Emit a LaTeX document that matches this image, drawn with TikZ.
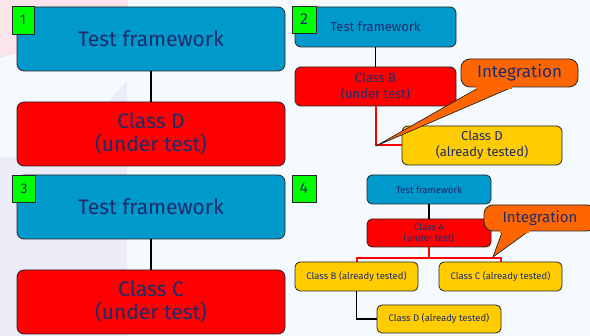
\documentclass[tikz,border=0pt]{standalone}
\usepackage{fontspec}
\setmainfont{Fira Sans}
\definecolor{bgpaper}{RGB}{245,250,254}
\definecolor{bgpink}{RGB}{252,229,234}
\definecolor{bglav}{RGB}{236,236,248}
\definecolor{fwblue}{RGB}{0,153,204}
\definecolor{cutred}{RGB}{255,0,0}
\definecolor{donegold}{RGB}{255,204,0}
\definecolor{tagreen}{RGB}{0,255,0}
\definecolor{calloutorange}{RGB}{255,102,0}
\definecolor{inkblue}{RGB}{30,44,108}
\newcommand{\fs}[2]{\fontsize{#1}{#2}\selectfont}
\tikzset{
  unit/.style={draw=black!85, line width=0.8pt, text=inkblue, align=center,
    inner sep=0pt, rounded corners=#1},
  unit/.default=7pt,
  framework/.style={unit, fill=fwblue},
  undertest/.style={unit, fill=cutred},
  tested/.style={unit, fill=donegold},
  tag/.style={draw=black!85, line width=0.8pt, fill=tagreen, text=inkblue,
    inner sep=0pt, minimum width=23pt, minimum height=27pt},
  bubble/.style={draw=black!85, line width=0.8pt, fill=calloutorange, text=inkblue,
    rounded corners=9pt, inner sep=0pt},
  link/.style={draw=black, line width=1.3pt},
  redlink/.style={color=cutred, draw=cutred, line width=2pt},
  pointer/.style={draw=black!85, line width=0.7pt, fill=calloutorange, line join=miter}
}
\begin{document}
\begin{tikzpicture}[x=1pt,y=-1pt]
\useasboundingbox (0,0) rectangle (590,336);
\clip (0,0) rectangle (590,336);
% slide background
\fill[bgpaper] (0,0) rectangle (590,336);
\fill[bgpink] (0,0) -- (128,0) -- (128,22) -- (0,58) -- cycle;
\fill[bglav] (127,80) -- (127,336) -- (0,336) -- (0,157) -- (62,157) -- cycle;

% ---- step 1 ----
\node[framework, minimum width=268pt, minimum height=64pt, font=\fs{21}{23}]
  (tf1) at (151,39) {Test framework};
\node[undertest, minimum width=268pt, minimum height=64pt, font=\fs{21}{23}]
  (cd1) at (151,134) {Class D\\(under test)};
\draw[link] (tf1.south) -- (cd1.north);
\node[tag, minimum width=22pt, minimum height=28pt, font=\fs{14}{16}] (t1) at (23,20) {1};

% ---- step 3 ----
\node[framework, minimum width=268pt, minimum height=64pt, font=\fs{21}{23}]
  (tf3) at (151,207) {Test framework};
\node[undertest, minimum width=268pt, minimum height=64pt, font=\fs{21}{23}]
  (cc3) at (151,302) {Class C\\(under test)};
\draw[link] (tf3.south) -- (cc3.north);
\node[tag, font=\fs{14}{16}] (t3) at (24,188.5) {3};

% ---- step 2 ----
\node[framework, unit=6pt, minimum width=161pt, minimum height=40pt, font=\fs{13}{16}]
  (tf2) at (375.5,27) {Test framework};
\node[undertest, unit=6pt, minimum width=161pt, minimum height=39pt, font=\fs{13}{16}]
  (cb2) at (375.5,86.5) {Class B\\(under test)};
\node[tested, unit=6pt, minimum width=160pt, minimum height=39pt, font=\fs{13}{16}]
  (cd2) at (482,145.5) {Class D\\(already tested)};
\draw[link] (tf2.south) -- (cb2.north);
\draw[redlink] (cb2.south) |- (cd2.west);
\coordinate (tip2) at (376,146);
\node[tag, minimum width=24pt, font=\fs{16}{18}] (t2) at (304,19.5) {2};
\node[bubble, minimum width=117pt, minimum height=28pt, font=\fs{17}{19}]
  (int2) at (519.5,73) {Integration};
\draw[pointer] ([xshift=-42pt,yshift=-1pt]int2.south) -- (tip2) -- ([xshift=-10pt,yshift=-1pt]int2.south);
\fill[calloutorange] ([xshift=-44pt,yshift=-1.5pt]int2.south) rectangle ([xshift=-8pt,yshift=2pt]int2.south);

% ---- step 4 ----
\node[framework, unit=5pt, minimum width=124pt, minimum height=29pt, font=\fs{9.5}{11}]
  (tf4) at (429,189.5) {Test framework};
\node[undertest, unit=5pt, minimum width=124pt, minimum height=28pt, font=\fs{9.5}{11}]
  (ca4) at (429,233) {Class A\\(under test)};
\node[tested, unit=5pt, minimum width=123pt, minimum height=29pt, font=\fs{9.5}{11}]
  (cb4) at (356.5,276.5) {Class B (already tested)};
\node[tested, unit=5pt, minimum width=123pt, minimum height=29pt, font=\fs{9.5}{11}]
  (cc4) at (500.5,276.5) {Class C (already tested)};
\node[tested, unit=5pt, minimum width=124pt, minimum height=28pt, font=\fs{9.5}{11}]
  (cd4) at (439,319) {Class D (already tested)};
\draw[link] (tf4.south) -- (ca4.north);
\coordinate (j4) at (429,258);
\draw[redlink] (ca4.south) -- (j4);
\draw[redlink] (j4) -| (cb4.north);
\draw[redlink] (j4) -| (cc4.north);
\draw[link] (cb4.south) |- (cd4.west);
\coordinate (tip4) at (493,257);
\node[tag, minimum width=24pt, font=\fs{16}{18}] (t4) at (304,188.5) {4};
\node[bubble, minimum width=112pt, minimum height=26pt, font=\fs{15}{17}]
  (int4) at (540,218) {Integration};
\draw[pointer] ([xshift=-38pt,yshift=-1pt]int4.south) -- (tip4) -- ([xshift=-13pt,yshift=-1pt]int4.south);
\fill[calloutorange] ([xshift=-40pt,yshift=-1.5pt]int4.south) rectangle ([xshift=-11pt,yshift=2pt]int4.south);
\end{tikzpicture}
\end{document}
